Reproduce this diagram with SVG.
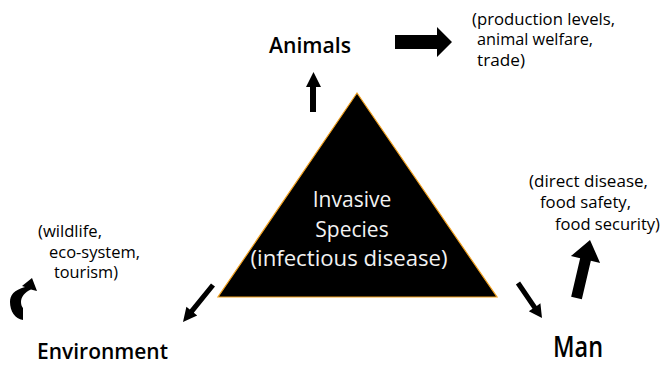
<svg xmlns="http://www.w3.org/2000/svg" width="662" height="365" viewBox="0 0 662 365">
<style>
.lbl{font-family:"Open Sans","Noto Sans",sans-serif;font-weight:600;fill:#000}
.sm{font-family:"Open Sans","Noto Sans",sans-serif;font-size:15.5px;fill:#000}
.in{font-family:"Open Sans","Noto Sans",sans-serif;font-size:21px;fill:#f2f2f2;text-anchor:middle}
.arr{fill:#000}
</style>
<rect width="662" height="365" fill="#fff"/>
<g id="triangle">
<polygon points="357,93 218,297 497,297" fill="#000" stroke="#f0a020" stroke-width="1.2"/>
<text class="in" x="352" y="207">Invasive</text>
<text class="in" x="352" y="237">Species</text>
<text class="in" x="349" y="266" textLength="197" lengthAdjust="spacingAndGlyphs">(infectious disease)</text>
</g>
<g id="animals">
<text class="lbl" x="269" y="53" font-size="22" textLength="82" lengthAdjust="spacingAndGlyphs">Animals</text>
</g>
<g id="animals-effects">
<text class="sm" x="472" y="25" font-size="16" textLength="143" lengthAdjust="spacingAndGlyphs">(production levels,</text>
<text class="sm" x="477" y="45" font-size="16" textLength="116" lengthAdjust="spacingAndGlyphs">animal welfare,</text>
<text class="sm" x="477" y="66" font-size="16" textLength="48" lengthAdjust="spacingAndGlyphs">trade)</text>
</g>
<g id="environment">
<text class="lbl" x="37" y="359" font-size="22" textLength="131" lengthAdjust="spacingAndGlyphs">Environment</text>
</g>
<g id="environment-effects">
<text class="sm" x="38" y="237" textLength="64" lengthAdjust="spacingAndGlyphs">(wildlife,</text>
<text class="sm" x="49" y="258" textLength="91" lengthAdjust="spacingAndGlyphs">eco-system,</text>
<text class="sm" x="54" y="278" textLength="64" lengthAdjust="spacingAndGlyphs">tourism)</text>
</g>
<g id="man">
<text class="lbl" x="553" y="357" font-size="28" textLength="50" lengthAdjust="spacingAndGlyphs">Man</text>
</g>
<g id="man-effects">
<text class="sm" x="529" y="187" textLength="119" lengthAdjust="spacingAndGlyphs">(direct disease,</text>
<text class="sm" x="540" y="208" textLength="91" lengthAdjust="spacingAndGlyphs">food safety,</text>
<text class="sm" x="555" y="230" textLength="105" lengthAdjust="spacingAndGlyphs">food security)</text>
</g>
<g id="connectors">
<polygon class="arr" points="395,35 437,35 437,27 452,42 437,57 437,49 395,49"/>
<polygon class="arr" points="310,112 316,112 316,87 321,87 313.5,72 306,87 310,87"/>
<polygon class="arr" points="211,283.4 215,286.6 193.8,312.7 197.2,315.5 183,322 186.4,306.7 189.8,309.5"/>
<polygon class="arr" points="515.9,284.4 520.1,281.6 536.7,305.9 540.4,303.3 542,318 528.8,311.3 532.5,308.7"/>
<polygon class="arr" points="571.15,296.75 581.85,299.25 590.85,260.75 600.1,262.9 590,240 570.9,256.1 580.15,258.25"/>
<path class="arr" d="M22,286 L32,278 L37,291 L31,289.5 C25,292 21,297 21,302 C21,305 22,307 23,308 L23,320 C15,319 10,311 10,302 C10,295 14,290 25,287 Z"/>
</g>
</svg>
